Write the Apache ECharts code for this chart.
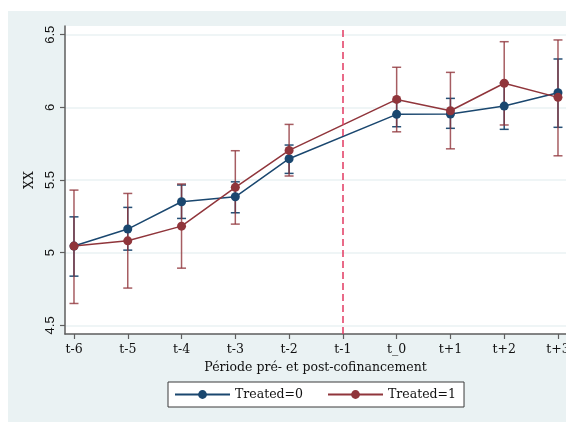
<!DOCTYPE html>
<html><head><meta charset="utf-8">
<script src="https://cdn.jsdelivr.net/npm/echarts@6/dist/echarts.min.js"></script>
<style>html,body{margin:0;padding:0;background:#fff}#c{width:566px;height:422px}</style>
</head><body><div id="c"></div>
<script>
const periods = ['t-6','t-5','t-4','t-3','t-2','t-1','t_0','t+1','t+2','t+3'];
const eventPeriod = 't-1';
const yTicks = [4.5, 5, 5.5, 6, 6.5];
const seriesNames = ['Treated=0', 'Treated=1'];
const t0Mean = [5.046, 5.163, 5.351, 5.385, 5.647, null, 5.952, 5.954, 6.009, 6.101];
const t0Low  = [4.839, 5.018, 5.236, 5.275, 5.546, null, 5.867, 5.856, 5.849, 5.863];
const t0High = [5.247, 5.312, 5.466, 5.488, 5.741, null, 6.040, 6.062, 6.170, 6.333];
const t1Mean = [5.046, 5.082, 5.183, 5.450, 5.704, null, 6.055, 5.977, 6.166, 6.069];
const t1Low  = [4.651, 4.757, 4.894, 5.197, 5.528, null, 5.832, 5.715, 5.879, 5.667];
const t1High = [5.431, 5.408, 5.473, 5.702, 5.883, null, 6.276, 6.241, 6.452, 6.464];

const BLUE = '#1a476f', RED = '#90353b';
const serifFont = '"DejaVu Serif", serif';
const sansFont = '"Liberation Sans", Arial, sans-serif';

function pts(arr){ const o=[]; arr.forEach((v,i)=>{ if(v!==null) o.push([i,v]); }); return o; }
function ci(lo,hi){ const o=[]; lo.forEach((v,i)=>{ if(v!==null) o.push([i,v,hi[i]]); }); return o; }
function errRender(color, opacity){
  return function(params, api){
    const x = api.value(0), lo = api.value(1), hi = api.value(2);
    const a = api.coord([x, lo]), b = api.coord([x, hi]);
    const w = 4.5;
    const style = {stroke: color, lineWidth: 1.5, opacity: opacity, fill: null};
    return {type:'group', children:[
      {type:'line', shape:{x1:a[0], y1:a[1], x2:b[0], y2:b[1]}, style:style},
      {type:'line', shape:{x1:b[0]-w, y1:b[1], x2:b[0]+w, y2:b[1]}, style:style},
      {type:'line', shape:{x1:a[0]-w, y1:a[1], x2:a[0]+w, y2:a[1]}, style:style}
    ]};
  };
}
const tickIdx = periods.map((p,i)=>i);
const chart = echarts.init(document.getElementById('c'), null, {renderer:'canvas'});
chart.setOption({
  backgroundColor: '#ffffff',
  animation: false,
  graphic: [{type:'rect', left:8, top:11, z:-10, shape:{width:560, height:415}, style:{fill:'#eaf2f3'}}],
  grid: {left:65, top:26, right:0, bottom:88, show:true, backgroundColor:'#ffffff', borderWidth:0, outerBoundsMode:'none', containLabel:false},
  xAxis: {
    type:'value', min:-0.167, max:9.149,
    name:'Période pré- et post-cofinancement', nameLocation:'middle', nameGap:25,
    nameTextStyle:{fontFamily:serifFont, fontSize:12.5, color:'#111'},
    axisLine:{show:true, onZero:false, lineStyle:{color:'#5e5e5e', width:1.5}},
    axisTick:{show:true, length:5, customValues:tickIdx, lineStyle:{color:'#5e5e5e', width:1.2}},
    axisLabel:{customValues:tickIdx, formatter:v=>periods[Math.round(v)], margin:9, fontFamily:serifFont, fontSize:12.5, color:'#111', hideOverlap:false},
    splitLine:{show:false}
  },
  yAxis: {
    type:'value', min:4.441, max:6.56,
    name:'XX', nameLocation:'middle', nameGap:26,
    nameTextStyle:{fontFamily:serifFont, fontSize:12.5, color:'#111'},
    axisLine:{show:true, onZero:false, lineStyle:{color:'#5e5e5e', width:1.5}},
    axisTick:{show:true, length:5, customValues:yTicks, lineStyle:{color:'#5e5e5e', width:1.2}},
    axisLabel:{customValues:yTicks, rotate:90, margin:8, fontFamily:sansFont, fontSize:13, color:'#111', formatter:v=>String(v)},
    splitLine:{show:true, lineStyle:{color:'#eaf2f3', width:1.5}}
  },
  legend: {
    data: seriesNames, left:168, top:382, orient:'horizontal',
    backgroundColor:'#ffffff', borderColor:'#3a3a3a', borderWidth:1,
    padding:[6,8,6,6], itemGap:24, itemWidth:55, itemHeight:11,
    textStyle:{fontFamily:serifFont, fontSize:12.5, color:'#111'}
  },
  series: [
    {type:'custom', name:'ci0', data:ci(t0Low,t0High), renderItem:errRender(BLUE,0.95), encode:{x:0, y:[1,2]}, z:2, silent:true},
    {type:'custom', name:'ci1', data:ci(t1Low,t1High), renderItem:errRender(RED,0.8), encode:{x:0, y:[1,2]}, z:2, silent:true},
    {type:'line', name:seriesNames[0], data:pts(t0Mean), color:BLUE, symbol:'circle', symbolSize:9,
      lineStyle:{color:BLUE, width:1.5}, itemStyle:{color:BLUE}, z:3,
      markLine:{silent:true, symbol:['none','none'], label:{show:false},
        lineStyle:{color:'#e23a62', type:[7,4], width:1.5},
        data:[{xAxis: periods.indexOf(eventPeriod)}]}},
    {type:'line', name:seriesNames[1], data:pts(t1Mean), color:RED, symbol:'circle', symbolSize:9,
      lineStyle:{color:RED, width:1.5}, itemStyle:{color:RED}, z:4}
  ]
});
</script></body></html>
